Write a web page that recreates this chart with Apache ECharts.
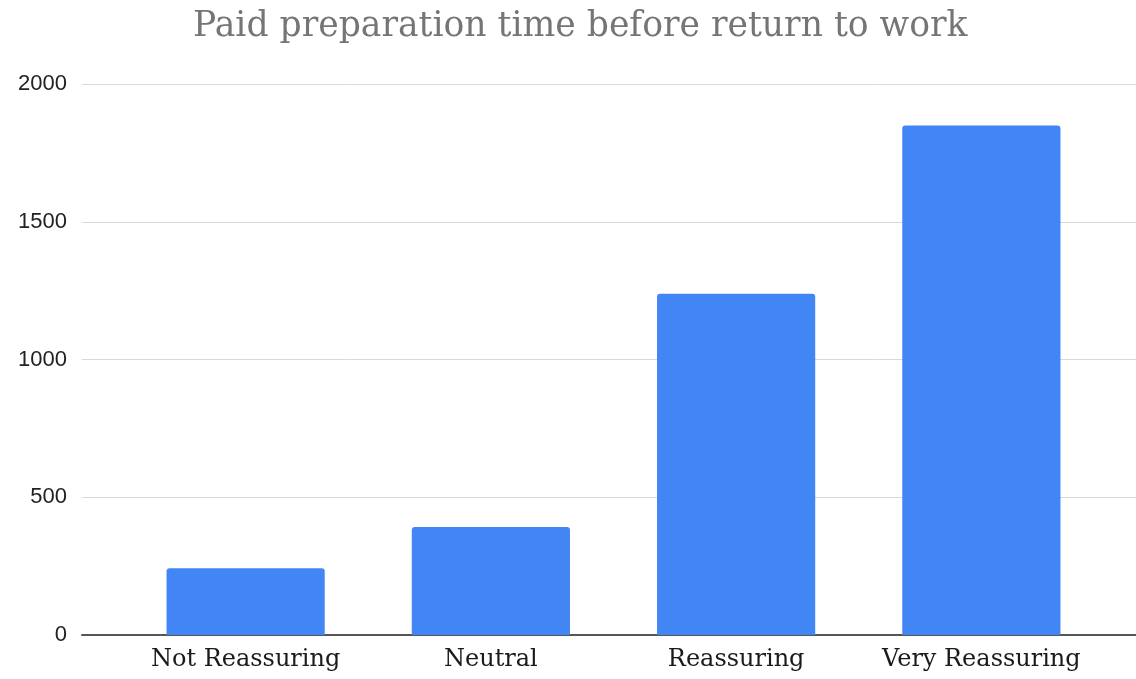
<!DOCTYPE html>
<html>
<head>
<meta charset="utf-8">
<script src="https://cdn.jsdelivr.net/npm/echarts@6/dist/echarts.min.js"></script>
<style>html,body{margin:0;padding:0;background:#fff}#c{width:1136px;height:679px}</style>
</head>
<body>
<div id="c"></div>
<script>
const categories = ['Not Reassuring', 'Neutral', 'Reassuring', 'Very Reassuring'];
const values = [242, 392, 1239, 1849];
const yTicks = [0, 500, 1000, 1500, 2000];
const titleText = 'Paid preparation time before return to work';

const chart = echarts.init(document.getElementById('c'), null, {renderer: 'canvas'});
const yMin = yTicks[0], yMax = yTicks[yTicks.length - 1], yStep = yTicks[1] - yTicks[0];
chart.setOption({
  animation: false,
  backgroundColor: '#fff',
  title: {
    text: titleText, left: 188, top: 5,
    textStyle: {fontFamily: 'DejaVu Serif', fontWeight: 'normal', fontSize: 34.6, color: '#757575'}
  },
  grid: [
    {left: 82, right: 0, top: 84, bottom: 44},
    {left: 123, right: 32, top: 84, bottom: 44}
  ],
  xAxis: [
    {type: 'value', gridIndex: 0, min: 0, max: 1, show: true,
     axisLine: {show: true, onZero: false, lineStyle: {color: '#555', width: 2}},
     axisTick: {show: false}, axisLabel: {show: false}, splitLine: {show: false}},
    {type: 'category', gridIndex: 1, data: categories,
     axisLine: {show: false}, axisTick: {show: false},
     axisLabel: {interval: 0, hideOverlap: false, fontFamily: 'DejaVu Serif', fontSize: 24, color: '#1a1a1a', margin: 13}}
  ],
  yAxis: [
    {type: 'value', gridIndex: 0, min: yMin, max: yMax, interval: yStep,
     axisLine: {show: false}, axisTick: {show: false},
     axisLabel: {fontFamily: 'Liberation Sans', fontSize: 22, color: '#222', margin: 15,
                 formatter: function (v) { return String(v); }},
     splitLine: {lineStyle: {color: '#d9d9d9', width: 1}}},
    {type: 'value', gridIndex: 1, min: yMin, max: yMax, interval: yStep, show: false}
  ],
  series: [{
    type: 'bar', xAxisIndex: 1, yAxisIndex: 1, data: values,
    barWidth: '64.5%', itemStyle: {color: '#4285F4', borderRadius: [3, 3, 0, 0]}
  }]
});
</script>
</body>
</html>
